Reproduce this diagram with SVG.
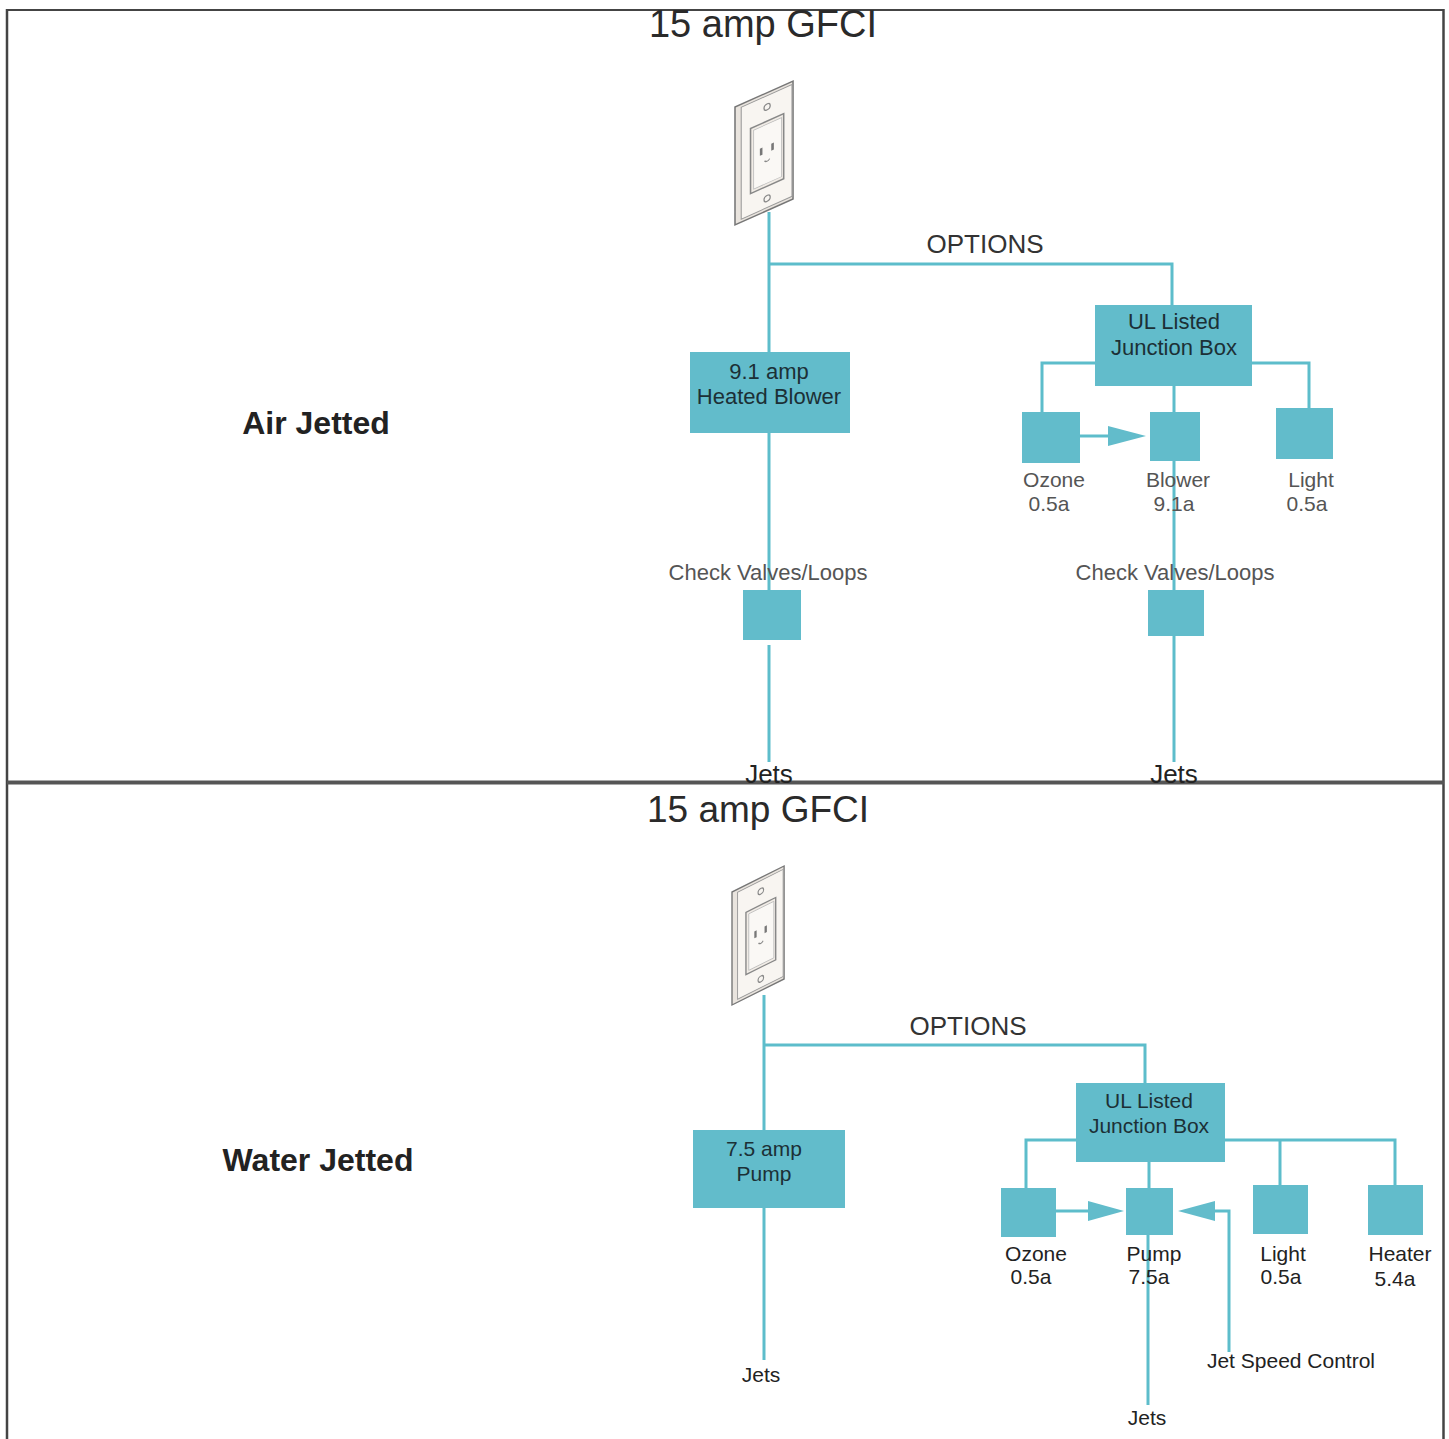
<svg xmlns="http://www.w3.org/2000/svg" width="1449" height="1439" viewBox="0 0 1449 1439">
<style>
.box{fill:#62bccb;}
.wire{fill:none;stroke:#5dbdcb;stroke-width:3;}
.head{fill:#62bccb;}
.t{font-family:"Liberation Sans",Arial,sans-serif;text-anchor:middle;}
.title{font-size:38px;fill:#2a2a2a;}
.opt{font-size:26px;fill:#333;}
.bt{font-size:21px;fill:#1c3036;}
.bt2{font-size:22px;fill:#1c3036;}
.lbl{font-size:21px;fill:#555;}
.cv{font-size:22px;fill:#555;}
.lbl2{font-size:21px;fill:#222;}
.side{font-size:32px;font-weight:bold;fill:#222;}
.frame{stroke:#444;fill:none;}
</style>
<defs>
<g id="outlet">
<rect x="0" y="0" width="56" height="116" fill="#e9e4de" stroke="#777" stroke-width="1.5"/>
<rect x="6" y="3" width="49" height="110" fill="#f8f5f1" stroke="#999" stroke-width="1"/>
<rect x="15" y="28" width="32" height="64" fill="#f1ece6" stroke="#888" stroke-width="1.5"/>
<rect x="18" y="31" width="27" height="58" fill="#faf8f5" stroke="#bbb" stroke-width="0.8"/>
<rect x="24" y="52" width="2.5" height="7" fill="#777"/>
<rect x="35" y="52" width="2.5" height="7" fill="#777"/>
<path d="M28.5 66 q2.5 3 5 0" fill="none" stroke="#888" stroke-width="1.2"/>
<circle cx="31" cy="14" r="3" fill="none" stroke="#888" stroke-width="1.2"/>
<circle cx="31" cy="104" r="3" fill="none" stroke="#888" stroke-width="1.2"/>
</g>
</defs>
<rect width="1449" height="1439" fill="#fff"/>

<!-- frame -->
<g id="frame">
<line class="frame" x1="7" y1="10" x2="1444" y2="10" stroke-width="2"/>
<line class="frame" x1="7" y1="9" x2="7" y2="1439" stroke-width="2.5"/>
<line class="frame" x1="1443.5" y1="9" x2="1443.5" y2="1439" stroke-width="2.5"/>
<line x1="7" y1="782.5" x2="1444" y2="782.5" stroke="#555" stroke-width="4"/>
</g>

<!-- connectors -->
<g id="connectors">
<!-- top panel -->
<polyline class="wire" points="769,212 769,352"/>
<polyline class="wire" points="769,264 1172,264 1172,305"/>
<polyline class="wire" points="769,433 769,590"/>
<polyline class="wire" points="769,645 769,762"/>
<polyline class="wire" points="1095,363 1042,363 1042,412"/>
<polyline class="wire" points="1252,363 1309,363 1309,408"/>
<polyline class="wire" points="1174,386 1174,412"/>
<polyline class="wire" points="1080,436 1110,436"/>
<polygon class="head" points="1108,426 1146,436 1108,446"/>
<polyline class="wire" points="1174,461 1174,590"/>
<polyline class="wire" points="1174,636 1174,762"/>
<!-- bottom panel -->
<polyline class="wire" points="764,995 764,1130"/>
<polyline class="wire" points="764,1045 1145,1045 1145,1083"/>
<polyline class="wire" points="764,1208 764,1360"/>
<polyline class="wire" points="1076,1140 1026,1140 1026,1188"/>
<polyline class="wire" points="1225,1140 1395,1140 1395,1185"/>
<polyline class="wire" points="1280,1140 1280,1185"/>
<polyline class="wire" points="1149,1162 1149,1188"/>
<polyline class="wire" points="1056,1211 1090,1211"/>
<polygon class="head" points="1088,1201 1124,1211 1088,1221"/>
<polyline class="wire" points="1229,1352 1229,1211 1213,1211"/>
<polygon class="head" points="1215,1201 1178,1211 1215,1221"/>
<polyline class="wire" points="1148,1235 1148,1405"/>
</g>

<!-- top panel nodes -->
<text class="t title" x="763" y="37">15 amp GFCI</text>
<g id="outlet-top"><use href="#outlet" transform="matrix(1.036,-0.464,0,1.017,735,107)"/></g>
<text class="t opt" x="985" y="253">OPTIONS</text>
<text class="t side" x="316" y="434">Air Jetted</text>

<g id="heated-blower">
<rect class="box" x="690" y="352" width="160" height="81"/>
<text class="t bt2" x="769" y="379">9.1 amp</text>
<text class="t bt2" x="769" y="404">Heated Blower</text>
</g>
<g id="check-valve-left">
<rect class="box" x="743" y="590" width="58" height="50"/>
<text class="t cv" x="768" y="580">Check Valves/Loops</text>
</g>
<g id="jets-top-left"><text class="t lbl2" x="769" y="783" style="font-size:26px">Jets</text></g>

<g id="junction-top">
<rect class="box" x="1095" y="305" width="157" height="81"/>
<text class="t bt2" x="1174" y="329">UL Listed</text>
<text class="t bt2" x="1174" y="355">Junction Box</text>
</g>
<g id="ozone-top">
<rect class="box" x="1022" y="412" width="58" height="51"/>
<text class="t lbl" x="1054" y="487">Ozone</text>
<text class="t lbl" x="1049" y="511">0.5a</text>
</g>
<g id="blower-top">
<rect class="box" x="1150" y="412" width="50" height="49"/>
<text class="t lbl" x="1178" y="487">Blower</text>
<text class="t lbl" x="1174" y="511">9.1a</text>
</g>
<g id="light-top">
<rect class="box" x="1276" y="408" width="57" height="51"/>
<text class="t lbl" x="1311" y="487">Light</text>
<text class="t lbl" x="1307" y="511">0.5a</text>
</g>
<g id="check-valve-right">
<rect class="box" x="1148" y="590" width="56" height="46"/>
<text class="t cv" x="1175" y="580">Check Valves/Loops</text>
</g>
<g id="jets-top-right"><text class="t lbl2" x="1174" y="783" style="font-size:26px">Jets</text></g>

<!-- bottom panel nodes -->
<text class="t title" x="758" y="822" style="font-size:37px">15 amp GFCI</text>
<g id="outlet-bottom"><use href="#outlet" transform="matrix(0.93,-0.464,0,0.974,732,892)"/></g>
<text class="t opt" x="968" y="1035">OPTIONS</text>
<text class="t side" x="318" y="1171">Water Jetted</text>

<g id="pump-main">
<rect class="box" x="693" y="1130" width="152" height="78"/>
<text class="t bt" x="764" y="1156">7.5 amp</text>
<text class="t bt" x="764" y="1181">Pump</text>
</g>
<g id="jets-bottom-left"><text class="t lbl2" x="761" y="1382">Jets</text></g>

<g id="junction-bottom">
<rect class="box" x="1076" y="1083" width="149" height="79"/>
<text class="t bt" x="1149" y="1108">UL Listed</text>
<text class="t bt" x="1149" y="1133">Junction Box</text>
</g>
<g id="ozone-bottom">
<rect class="box" x="1001" y="1188" width="55" height="49"/>
<text class="t lbl2" x="1036" y="1261">Ozone</text>
<text class="t lbl2" x="1031" y="1284">0.5a</text>
</g>
<g id="pump-bottom">
<rect class="box" x="1126" y="1188" width="47" height="47"/>
<text class="t lbl2" x="1154" y="1261">Pump</text>
<text class="t lbl2" x="1149" y="1284">7.5a</text>
</g>
<g id="light-bottom">
<rect class="box" x="1253" y="1185" width="55" height="49"/>
<text class="t lbl2" x="1283" y="1261">Light</text>
<text class="t lbl2" x="1281" y="1284">0.5a</text>
</g>
<g id="heater-bottom">
<rect class="box" x="1368" y="1185" width="55" height="50"/>
<text class="t lbl2" x="1400" y="1261">Heater</text>
<text class="t lbl2" x="1395" y="1286">5.4a</text>
</g>
<g id="jet-speed-control"><text class="t lbl2" x="1291" y="1368">Jet Speed Control</text></g>
<g id="jets-bottom-right"><text class="t lbl2" x="1147" y="1425">Jets</text></g>
</svg>
